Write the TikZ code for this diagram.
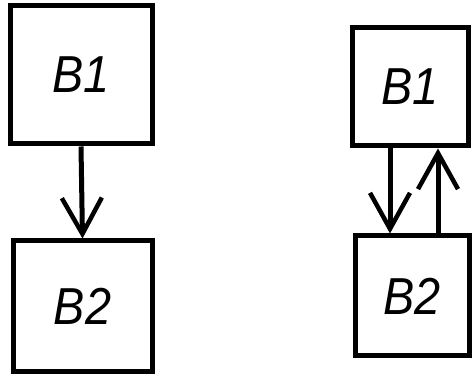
\documentclass[tikz,border=0pt]{standalone}
\usepackage{fontspec}
\setmainfont{Liberation Sans}
\usetikzlibrary{arrows.meta}
\newcommand{\blabel}[1]{\scalebox{0.9}[1]{#1}}
\begin{document}
\begin{tikzpicture}[x=1pt,y=-1pt,
  blk/.style={draw=black, line width=5pt, rectangle, inner sep=0pt,
    font=\fontsize{52}{58}\selectfont\itshape},
  conn/.style={line width=5pt, -{Straight Barb[length=36pt,width=40pt,line width=4.5pt]}}]
\useasboundingbox (0,0) rectangle (475,379);
% left pair
\node[blk, minimum width=142pt, minimum height=138pt] (l1) at (81,75) {\blabel{B1}};
\node[blk, minimum width=139pt, minimum height=131pt] (l2) at (82.5,306.5) {\blabel{B2}};
\draw[conn] (l1.south) -- (l2.north);
% right pair
\node[blk, minimum width=116pt, minimum height=118pt] (r1) at (410,87) {\blabel{B1}};
\node[blk, minimum width=114pt, minimum height=120pt] (r2) at (412,296) {\blabel{B2}};
\draw[conn] ([xshift=-20pt]r1.south) -- ([xshift=-22pt]r2.north);
\draw[conn] ([xshift=26pt]r2.north) -- ([xshift=28pt]r1.south);
\end{tikzpicture}
\end{document}
